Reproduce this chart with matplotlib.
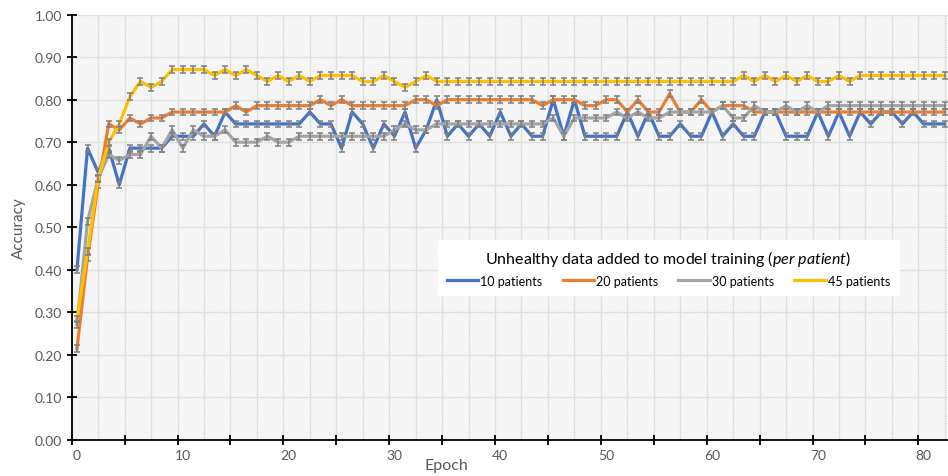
import numpy as np
import matplotlib.pyplot as plt
from matplotlib.patches import Rectangle

plt.rcParams['font.family'] = ['Lato', 'DejaVu Sans']
plt.rcParams['mathtext.fontset'] = 'custom'
plt.rcParams['mathtext.rm'] = 'Lato'
plt.rcParams['mathtext.it'] = 'Lato:italic'
plt.rcParams['hatch.linewidth'] = 0.5

# Data (accuracy per epoch)
epochs = np.arange(83)

acc_10 = ([0.400, 0.686, 0.629, 0.686, 0.600, 0.686, 0.686, 0.686, 0.686, 0.714,
           0.714, 0.714, 0.743, 0.714, 0.771] + [0.743] * 7 +
          [0.771, 0.743, 0.743, 0.686, 0.771, 0.743, 0.686, 0.743, 0.714, 0.771,
           0.686, 0.729, 0.800, 0.714, 0.743, 0.714, 0.743, 0.714, 0.771, 0.714,
           0.743, 0.714, 0.714, 0.800, 0.714, 0.800] + [0.714] * 4 +
          [0.771, 0.714, 0.771, 0.714, 0.714, 0.743, 0.714, 0.714, 0.771, 0.714,
           0.743, 0.714, 0.714, 0.771, 0.771, 0.714, 0.714, 0.714, 0.771, 0.714,
           0.771, 0.714, 0.771, 0.743, 0.771, 0.771, 0.743, 0.771, 0.743, 0.743,
           0.743])

acc_20 = ([0.214, 0.429, 0.600, 0.743, 0.729, 0.757, 0.743, 0.757, 0.757] +
          [0.771] * 6 + [0.786, 0.771] + [0.786] * 6 +
          [0.800, 0.786, 0.800] + [0.786] * 6 + [0.800, 0.800, 0.786] +
          [0.800] * 9 +
          [0.786, 0.800, 0.800, 0.800, 0.786, 0.786, 0.800, 0.800, 0.771, 0.800,
           0.771, 0.771, 0.814, 0.771, 0.771, 0.800, 0.771, 0.786, 0.786, 0.786] +
          [0.771] * 19)

acc_30 = ([0.271, 0.514, 0.614, 0.671, 0.657, 0.671, 0.671, 0.714, 0.686, 0.729,
           0.686, 0.729, 0.714, 0.714, 0.729, 0.700, 0.700, 0.700, 0.714, 0.700,
           0.700] + [0.714] * 9 + [0.729, 0.743, 0.729, 0.729] + [0.743] * 11 +
          [0.757, 0.714, 0.757, 0.757, 0.757, 0.757, 0.771, 0.757, 0.771, 0.757,
           0.757] + [0.771] * 5 +
          [0.786, 0.757, 0.757, 0.786, 0.771, 0.771, 0.786, 0.771, 0.786, 0.771] +
          [0.786] * 12)

acc_45 = ([0.284, 0.443, 0.614, 0.700, 0.743, 0.807, 0.843, 0.829, 0.843] +
          [0.871] * 4 +
          [0.857, 0.871, 0.857, 0.871, 0.857, 0.843, 0.857, 0.843, 0.857, 0.843] +
          [0.857] * 4 + [0.843, 0.843, 0.857, 0.843, 0.829, 0.843, 0.857] +
          [0.843] * 29 +
          [0.857, 0.843, 0.857, 0.843, 0.857, 0.843, 0.857, 0.843, 0.843, 0.857,
           0.843, 0.857] + [0.857] * 8)

err = 0.008
labels = ['10 patients', '20 patients', '30 patients', '45 patients']
colors = ['#4472C4', '#ED7D31', '#A5A5A5', '#FFC000']

fig = plt.figure(figsize=(9.48, 4.77), dpi=100)
ax = fig.add_axes([0.0756, 0.0761, 0.9244, 0.891])

# light hatched background
ax.add_patch(Rectangle((0, 0), 1, 1, transform=ax.transAxes, facecolor='white',
                       edgecolor='#e8e8e8', hatch='\\' * 14, lw=0, zorder=0))

for y, lab, c in zip([acc_10, acc_20, acc_30, acc_45], labels, colors):
    ax.plot(epochs, y, color=c, lw=2.3, label=lab, zorder=3)
    ax.errorbar(epochs, y, yerr=err, fmt='none', ecolor='#7f7f7f', elinewidth=1.1,
                capsize=2.5, capthick=1.1, zorder=3)

ax.set_xlim(-0.5, 82.3)
ax.set_ylim(0, 1.0)

ax.set_yticks(np.arange(0, 1.01, 0.1))
ax.set_yticklabels([f'{v:.2f}' for v in np.arange(0, 1.01, 0.1)])
ax.set_xticks(np.arange(0, 81, 10))
ax.set_xticks(np.arange(-0.5, 82, 5), minor=True)
ax.tick_params(axis='x', which='major', length=0, pad=7, labelsize=10, labelcolor='#595959')
ax.tick_params(axis='x', which='minor', direction='inout', length=7, width=1.3)
ax.tick_params(axis='y', which='major', direction='inout', length=7, width=1.3,
               labelsize=10, labelcolor='#595959')

# gridlines
for gx in np.arange(-0.5, 83, 2.5):
    ax.axvline(gx, color='#e0e0e0', lw=1.0, zorder=1)
for gy in np.arange(0.1, 1.01, 0.1):
    ax.axhline(gy, color='#e0e0e0', lw=1.0, zorder=1)

for s in ['top', 'right']:
    ax.spines[s].set_visible(False)
for s in ['left', 'bottom']:
    ax.spines[s].set_linewidth(1.3)
    ax.spines[s].set_zorder(4)

ax.set_xlabel('Epoch', fontsize=11.5, color='#595959')
ax.xaxis.set_label_coords(0.428, -0.044)
ax.set_ylabel('Accuracy', fontsize=11, color='#595959', labelpad=6)

leg = ax.legend(ncol=4, loc='center', bbox_to_anchor=(0.681, 0.405),
                title=r'Unhealthy data added to model training $\mathit{(per\ patient)}$',
                fontsize=9, title_fontsize=11.5, frameon=True, fancybox=False,
                handlelength=2.5, handletextpad=0.2, columnspacing=1.6,
                borderpad=0.7)
leg.get_frame().set_edgecolor('white')
leg.get_frame().set_facecolor('white')
leg.get_frame().set_alpha(1)
leg.set_zorder(6)

fig.savefig('out.png', dpi=100)
